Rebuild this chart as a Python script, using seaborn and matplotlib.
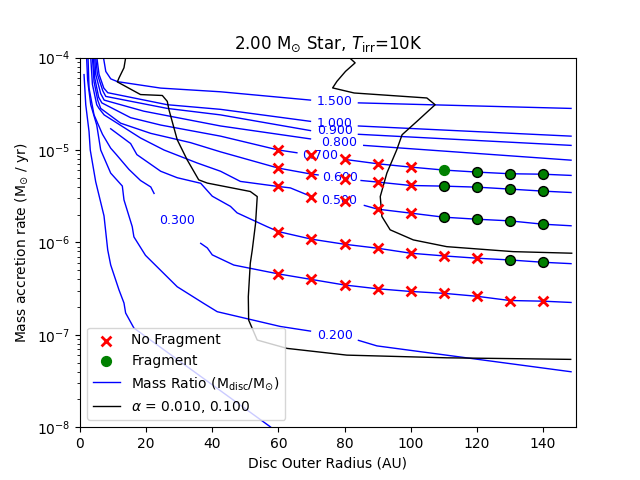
import numpy as np
import matplotlib
matplotlib.use("Agg")
import matplotlib.pyplot as plt
import seaborn as sns

# simulation grid: disc outer radius (AU) and log10 accretion rate per run
radii = [60, 70, 80, 90, 100, 110, 120, 130, 140]
runs_logmdot = [
    [-4.997, -5.052, -5.098, -5.149, -5.185, -5.217, -5.239, -5.257, -5.261],
    [-5.196, -5.261, -5.315, -5.347, -5.384, -5.391, -5.402, -5.423, -5.445],
    [-5.395, -5.504, -5.550, -5.640, -5.683, -5.727, -5.749, -5.767, -5.803],
    [-5.883, -5.965, -6.020, -6.063, -6.117, -6.146, -6.171, -6.190, -6.215],
    [-6.341, -6.401, -6.461, -6.502, -6.531, -6.551, -6.583, -6.629, -6.636],
]
runs_frag = [
    [0, 0, 0, 0, 0, 1, 1, 1, 1],
    [0, 0, 0, 0, 0, 1, 1, 1, 1],
    [0, 0, 0, 0, 0, 1, 1, 1, 1],
    [0, 0, 0, 0, 0, 0, 0, 1, 1],
    [0, 0, 0, 0, 0, 0, 0, 0, 0],
]

# mass ratio contours (R, log10 Mdot), None = gap for the label
q150_r = [7.1, 7.8, 9.3, 11.3, 24.4, 42.5, 69.7, None, 84.2, 148.5]
q150_m = [-4.0, -4.15, -4.23, -4.26, -4.33, -4.37, -4.46, None, -4.49, -4.55]
q100_r = [5.1, 5.75, 7.2, 8.4, 26.4, 42.5, 69.7, None, 84.2, 148.5]
q100_m = [-4.0, -4.18, -4.33, -4.38, -4.51, -4.56, -4.69, None, -4.74, -4.85]
q090_r = [4.75, 5.27, 6.9, 7.8, 26.4, 42.5, 69.7, None, 84.2, 148.5]
q090_m = [-4.0, -4.18, -4.36, -4.42, -4.55, -4.62, -4.79, None, -4.83, -4.95]
q080_r = [4.45, 4.75, 6.26, 7.3, 19.3, 42.5, 69.7, None, 85.8, 148.5]
q080_m = [-4.0, -4.18, -4.39, -4.46, -4.58, -4.74, -4.88, None, -4.95, -5.11]
q070_r = [4.06, 4.45, 5.66, 6.6, 15.3, 24.4, 42.5, 60, 65.6, None,
          79.7, 90, 100, 110, 120, 130, 140, 148.5]
q070_m = [-4.0, -4.22, -4.43, -4.49, -4.65, -4.73, -4.85, -5.0, -5.03, None,
          -5.10, -5.149, -5.185, -5.217, -5.239, -5.257, -5.262, -5.275]
q060_r = [3.76, 4.24, 5.36, 6.26, 12.3, 21.4, 33.4, 42.5, 60, 70, 72, None,
          85, 90, 100, 110, 120, 130, 140, 148.5]
q060_m = [-4.0, -4.26, -4.46, -4.55, -4.71, -4.82, -4.92, -5.02, -5.196, -5.261, -5.27, None,
          -5.33, -5.347, -5.384, -5.391, -5.402, -5.423, -5.445, -5.46]
q050_r = [3.25, 3.76, 5.06, 5.75, 7.3, 18.3, 25.4, 35.4, 42.5, 48.5, 60, 63.6, 70, None,
          86, 90, 100, 110, 120, 130, 140, 148.5]
q050_m = [-4.0, -4.29, -4.51, -4.55, -4.62, -4.87, -5.0, -5.14, -5.23, -5.34, -5.395, -5.41, -5.504, None,
          -5.60, -5.640, -5.683, -5.727, -5.749, -5.767, -5.803, -5.82]
q040_r = [9.28, 15.3, 17.2, 24.4, 29.4, 36.5, 40, 45.5, 47.5, 56.6,
          60, 70, 80, 90, 100, 110, 120, 130, 140, 148.5]
q040_m = [-4.77, -4.93, -5.05, -5.23, -5.30, -5.36, -5.50, -5.61, -5.68, -5.83,
          -5.883, -5.965, -6.020, -6.063, -6.117, -6.146, -6.171, -6.190, -6.215, -6.23]
q030_r = [2.43, 2.73, 4.24, 6.8, 9.28, 11.0, 14.8, 18.3, 21.4, 22.4, None,
          36.5, 38.5, 40, 46.5, 60, 70, 80, 90, 100, 110, 120, 130, 140, 148.5]
q030_m = [-4.0, -4.33, -4.62, -4.83, -4.98, -5.05, -5.21, -5.33, -5.40, -5.47, None,
          -6.01, -6.06, -6.135, -6.245, -6.341, -6.401, -6.461, -6.502, -6.531, -6.551,
          -6.583, -6.629, -6.636, -6.65]
q020_r = [2.0, 2.3, 3.25, 5.06, 6.26, 9.28, 12.8, 13.3, 15.8, 16.3, 19.8, 29.4, 37.4, 41.5,
          60.6, 69.7, None, 84.2, 89.8, 148.5]
q020_m = [-4.0, -4.24, -4.51, -4.73, -5.0, -5.25, -5.39, -5.54, -5.83, -5.94, -6.14, -6.48,
          -6.66, -6.75, -6.91, -6.96, None, -7.06, -7.12, -7.40]
q010_r = [1.22, 1.74, 2.73, 3.1, 4.75, 7.26, 8.38, 9.28, 11.8, 13.3, 13.8, 16.3, 57.6]
q010_m = [-4.184, -4.51, -4.80, -5.0, -5.344, -5.713, -6.081, -6.244, -6.515, -6.656,
          -6.764, -6.927, -7.997]

ratio_lines = [(q150_r, q150_m), (q100_r, q100_m), (q090_r, q090_m), (q080_r, q080_m),
               (q070_r, q070_m), (q060_r, q060_m), (q050_r, q050_m), (q040_r, q040_m),
               (q030_r, q030_m), (q020_r, q020_m), (q010_r, q010_m)]

ratio_labels = ["1.500", "1.000", "0.900", "0.800", "0.700", "0.600", "0.500", "0.300", "0.200"]
label_r = [77.0, 77.0, 77.2, 78.5, 72.7, 78.5, 78.5, 29.4, 77.2]
label_m = [-4.475, -4.708, -4.791, -4.914, -5.062, -5.293, -5.547, -5.764, -7.003]

# viscosity alpha contours
alpha_hi_r = [81.8, 83.2, 80.3, 77.7, 76.4, 82.9, 104.9, 107.4, 101.9, 97.4, 95.8,
              92.8, 90.8, 91.3, 93.8, 100.8, 110.9, 131.0, 148.7]
alpha_hi_m = [-4.011, -4.057, -4.149, -4.257, -4.328, -4.383, -4.437, -4.51, -4.69, -4.835,
              -4.997, -5.25, -5.504, -5.72, -5.864, -5.973, -6.046, -6.10, -6.117]
alpha_lo_r = [13.8, 13.3, 11.8, 11.3, 18.3, 24.9, 26.4, 26.9, 29.4, 32.4, 35.9, 38.5,
              51.5, 53.6, 53.1, 52.1, 51.5, 50.9, 51.0, 53.6, 62.6, 80.7, 110.9, 148.4]
alpha_lo_m = [-4.003, -4.11, -4.22, -4.263, -4.40, -4.41, -4.474, -4.564, -4.889, -5.106,
              -5.323, -5.358, -5.449, -5.504, -5.792, -6.081, -6.226, -6.588, -6.84, -7.057,
              -7.147, -7.22, -7.249, -7.266]


def to_xy(r, m):
    x = np.array([np.nan if v is None else v for v in r], dtype=float)
    y = np.array([np.nan if v is None else 10.0 ** v for v in m], dtype=float)
    return x, y


fig, ax = plt.subplots(figsize=(6.4, 4.8), dpi=100)

for r, m in ratio_lines:
    x, y = to_xy(r, m)
    ax.plot(x, y, color="blue", lw=1, zorder=2)
for r, m in [(alpha_hi_r, alpha_hi_m), (alpha_lo_r, alpha_lo_m)]:
    x, y = to_xy(r, m)
    ax.plot(x, y, color="black", lw=1, zorder=2)

for txt, r, m in zip(ratio_labels, label_r, label_m):
    ax.text(r, 10.0 ** m, txt, color="blue", fontsize=9, ha="center", va="center", zorder=3)

nofrag_r, nofrag_m, frag_r, frag_m = [], [], [], []
for row, flags in zip(runs_logmdot, runs_frag):
    for r, m, f in zip(radii, row, flags):
        if f:
            frag_r.append(r)
            frag_m.append(10.0 ** m)
        else:
            nofrag_r.append(r)
            nofrag_m.append(10.0 ** m)

sns.scatterplot(x=nofrag_r, y=nofrag_m, ax=ax, marker="x", color="red", s=50,
                linewidth=2, zorder=4)
# first fragmenting run drawn without a black edge (as in the original)
sns.scatterplot(x=frag_r[:1], y=frag_m[:1], ax=ax, marker="o", color="green", s=50,
                edgecolor="green", linewidth=1, zorder=4)
sns.scatterplot(x=frag_r[1:], y=frag_m[1:], ax=ax, marker="o", color="green", s=50,
                edgecolor="black", linewidth=1, zorder=4)

ax.set_yscale("log")
ax.set_xlim(0, 150)
ax.set_ylim(1e-8, 1e-4)
ax.set_xlabel("Disc Outer Radius (AU)")
ax.set_ylabel(r"Mass accretion rate (M$_{\odot}$ / yr)")
ax.set_title(r"2.00 M$_{\odot}$ Star, $T_{\rm irr}$=10K")

h_nf = ax.scatter([], [], marker="x", color="red", s=50, linewidths=2)
h_f = ax.scatter([], [], marker="o", color="green", s=50)
h_q, = ax.plot([], [], color="blue", lw=1)
h_a, = ax.plot([], [], color="black", lw=1)
ax.legend([h_nf, h_f, h_q, h_a],
          ["No Fragment", "Fragment", r"Mass Ratio (M$_{\rm disc}$/M$_{\odot}$)",
           r"$\alpha$ = 0.010, 0.100"],
          loc="lower left", scatterpoints=1)

fig.savefig("out.png", dpi=100)
